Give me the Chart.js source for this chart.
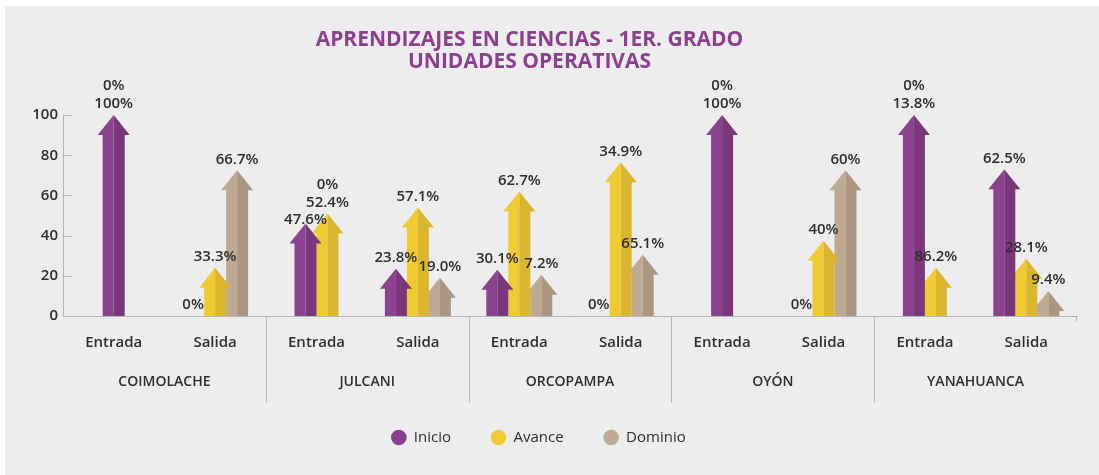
<!DOCTYPE html>
<html>
<head>
<meta charset="utf-8">
<script src="https://cdn.jsdelivr.net/npm/chart.js@4.4.0/dist/chart.umd.min.js"></script>
<style>
  html, body { margin: 0; padding: 0; background: #fff; }
  #wrap { position: relative; width: 1099px; height: 475px; }
</style>
</head>
<body>
<div id="wrap"><canvas id="grafico"></canvas></div>
<script>
// --- datos ---
const categorias = ['Entrada', 'Salida', 'Entrada', 'Salida', 'Entrada', 'Salida', 'Entrada', 'Salida', 'Entrada', 'Salida'];
const unidades = ['COIMOLACHE', 'JULCANI', 'ORCOPAMPA', 'OYÓN', 'YANAHUANCA'];

// alturas de las flechas (null = sin flecha)
const inicio  = [100, 0, 46, 23.5, 23, 0, 100, 0, 100, 73];
const avance  = [null, 24, 51, 54, 62, 76.5, null, 37.5, 24, 28.5];
const dominio = [null, 72.5, null, 19, 20.5, 30.5, null, 72.5, null, 12.5];

// etiquetas tal como aparecen en el grafico
const etiquetasInicio  = ['100%', '0%', '47.6%', '23.8%', '30.1%', '0%', '100%', '0%', '13.8%', '62.5%'];
const etiquetasAvance  = ['', '33.3%', '52.4%', '57.1%', '62.7%', '34.9%', '', '40%', '86.2%', '28.1%'];
const etiquetasDominio = ['0%', '66.7%', '0%', '19.0%', '7.2%', '65.1%', '0%', '60%', '0%', '9.4%'];

const ticksY = [0, 20, 40, 60, 80, 100];

const FUENTE = '"Open Sans", Lato, sans-serif';
const TEXTO = '#2e2e2e';
const LINEA = '#b4b4b4';

const series = [
    { label: 'Inicio',  data: inicio,  etiquetas: etiquetasInicio,  color: '#8a408e', claro: '#8b428f', oscuro: '#7a377c' },
    { label: 'Avance',  data: avance,  etiquetas: etiquetasAvance,  color: '#f0cb32', claro: '#f0ca31', oscuro: '#d9b62d' },
    { label: 'Dominio', data: dominio, etiquetas: etiquetasDominio, color: '#bcaa95', claro: '#bea993', oscuro: '#aa9681' }
];

// --- fondo gris ---
const fondo = {
    id: 'fondo',
    beforeDraw(chart) {
        const { ctx, width, height } = chart;
        ctx.save();
        ctx.fillStyle = '#ffffff';
        ctx.fillRect(0, 0, width, height);
        ctx.fillStyle = '#ededed';
        ctx.fillRect(5, 6, width - 5, height - 6);
        ctx.restore();
    },
    afterLayout(chart) {
        // el titulo original queda algo a la izquierda del centro
        if (chart.titleBlock) chart.titleBlock.right = chart.titleBlock.right - 18;
    }
};

// --- flechas en lugar de barras ---
function dibujarFlecha(ctx, el, claro, oscuro) {
    const { x, y, base, width } = el.getProps(['x', 'y', 'base', 'width'], true);
    const alto = base - y;
    if (!(alto > 0.5)) return;
    const punta = Math.min(20, alto);
    const mitad = width / 2;
    const ala = mitad + 5;
    const cuello = y + punta;

    ctx.fillStyle = claro;
    ctx.beginPath();
    ctx.moveTo(x, y);
    ctx.lineTo(x - ala, cuello);
    ctx.lineTo(x - mitad, cuello);
    ctx.lineTo(x - mitad, base);
    ctx.lineTo(x, base);
    ctx.closePath();
    ctx.fill();

    ctx.fillStyle = oscuro;
    ctx.beginPath();
    ctx.moveTo(x, y);
    ctx.lineTo(x + ala, cuello);
    ctx.lineTo(x + mitad, cuello);
    ctx.lineTo(x + mitad, base);
    ctx.lineTo(x, base);
    ctx.closePath();
    ctx.fill();
}

const flechas = {
    id: 'flechas',
    beforeDatasetDraw(chart, args) {
        const s = series[args.index];
        const ctx = chart.ctx;
        ctx.save();
        args.meta.data.forEach((el, i) => {
            if (s.data[i] === null) return;
            dibujarFlecha(ctx, el, s.claro, s.oscuro);
        });
        ctx.restore();
        return false;
    }
};

// --- etiquetas de porcentaje ---
const etiquetas = {
    id: 'etiquetas',
    afterDatasetsDraw(chart) {
        const ctx = chart.ctx;
        const baseY = chart.scales.y.getPixelForValue(0);
        ctx.save();
        ctx.font = '600 15px ' + FUENTE;
        ctx.fillStyle = TEXTO;
        ctx.textAlign = 'center';
        ctx.textBaseline = 'middle';
        categorias.forEach((c, i) => {
            const puestas = [];
            const pendientes = [];
            series.forEach((s, d) => {
                const txt = s.etiquetas[i];
                if (!txt) return;
                const v = s.data[i];
                if (v === null) { pendientes.push(txt); return; }
                const el = chart.getDatasetMeta(d).data[i];
                puestas.push({ txt, x: el.x, y: v > 0 ? el.y - 11 : baseY - 11, w: ctx.measureText(txt).width });
            });
            // de la mas alta a la mas baja; si choca con otra, se baja un poco
            puestas.sort((a, b) => a.y - b.y);
            puestas.forEach((p, k) => {
                for (let j = 0; j < k; j++) {
                    const q = puestas[j];
                    if (Math.abs(p.x - q.x) < (p.w + q.w) / 2 && p.y - q.y < 17) p.y = q.y + 17;
                }
                ctx.fillText(p.txt, p.x, p.y);
            });
            let arriba = puestas.length ? puestas[0] : null;
            pendientes.forEach(txt => {
                if (!arriba) return;
                arriba = { x: arriba.x, y: arriba.y - 18 };
                ctx.fillText(txt, arriba.x, arriba.y);
            });
        });
        ctx.restore();
    }
};

// --- marcas de eje y separadores de grupos ---
const marcas = {
    id: 'marcas',
    afterDraw(chart) {
        const { ctx, chartArea } = chart;
        const x = chart.scales.x;
        const y = chart.scales.y;
        ctx.save();
        ctx.strokeStyle = LINEA;
        ctx.lineWidth = 1;
        ctx.beginPath();
        ticksY.forEach(t => {
            const py = Math.round(y.getPixelForValue(t)) + 0.5;
            ctx.moveTo(chartArea.left, py);
            ctx.lineTo(chartArea.left + 9, py);
        });
        for (let i = 1; i < categorias.length - 1; i += 2) {
            const px = Math.round((x.getPixelForValue(i) + x.getPixelForValue(i + 1)) / 2) + 0.5;
            ctx.moveTo(px, chartArea.bottom);
            ctx.lineTo(px, 403);
        }
        ctx.moveTo(chartArea.right - 0.5, chartArea.bottom);
        ctx.lineTo(chartArea.right - 0.5, chartArea.bottom + 5);
        ctx.stroke();
        ctx.restore();
    }
};

new Chart(document.getElementById('grafico'), {
    type: 'bar',
    data: {
        labels: categorias,
        datasets: series.map(s => ({
            label: s.label,
            data: s.data,
            backgroundColor: s.color,
            borderWidth: 0
        }))
    },
    options: {
        responsive: true,
        maintainAspectRatio: false,
        animation: false,
        skipNull: true,
        barThickness: 22,
        layout: { padding: { top: 5, right: 22, bottom: 20, left: 0 } },
        scales: {
            x: {
                weight: 0,
                grid: { display: false, drawTicks: false },
                border: { color: LINEA },
                afterFit(scale) { scale.height = 38; },
                ticks: { color: TEXTO, font: { family: FUENTE, size: 15, weight: '600' }, padding: 18, maxRotation: 0 }
            },
            x2: {
                type: 'category',
                position: 'bottom',
                weight: 1,
                labels: unidades,
                offset: true,
                grid: { display: false, drawTicks: false },
                border: { display: false },
                afterFit(scale) { scale.height = 36; },
                ticks: { color: TEXTO, font: { family: FUENTE, size: 14, weight: '600' }, padding: 20, maxRotation: 0 }
            },
            y: {
                min: 0,
                max: 100,
                grid: { display: false, drawTicks: false },
                border: { color: LINEA },
                afterFit(scale) { scale.width = 63; },
                afterBuildTicks(scale) { scale.ticks = ticksY.map(v => ({ value: v })); },
                ticks: { color: TEXTO, font: { family: FUENTE, size: 15, weight: '600' }, padding: 5 }
            }
        },
        plugins: {
            title: {
                display: true,
                text: ['APRENDIZAJES EN CIENCIAS - 1ER. GRADO', 'UNIDADES OPERATIVAS'],
                color: '#8b3f8e',
                font: { family: FUENTE, size: 21, weight: 'bold', lineHeight: 1.05 },
                padding: { top: 24, bottom: 42 }
            },
            legend: {
                position: 'bottom',
                labels: {
                    usePointStyle: true,
                    pointStyle: 'circle',
                    boxWidth: 15,
                    boxHeight: 11,
                    padding: 40,
                    color: TEXTO,
                    font: { family: FUENTE, size: 15 }
                }
            },
            tooltip: { enabled: false }
        }
    },
    plugins: [fondo, flechas, etiquetas, marcas]
});
</script>
</body>
</html>
